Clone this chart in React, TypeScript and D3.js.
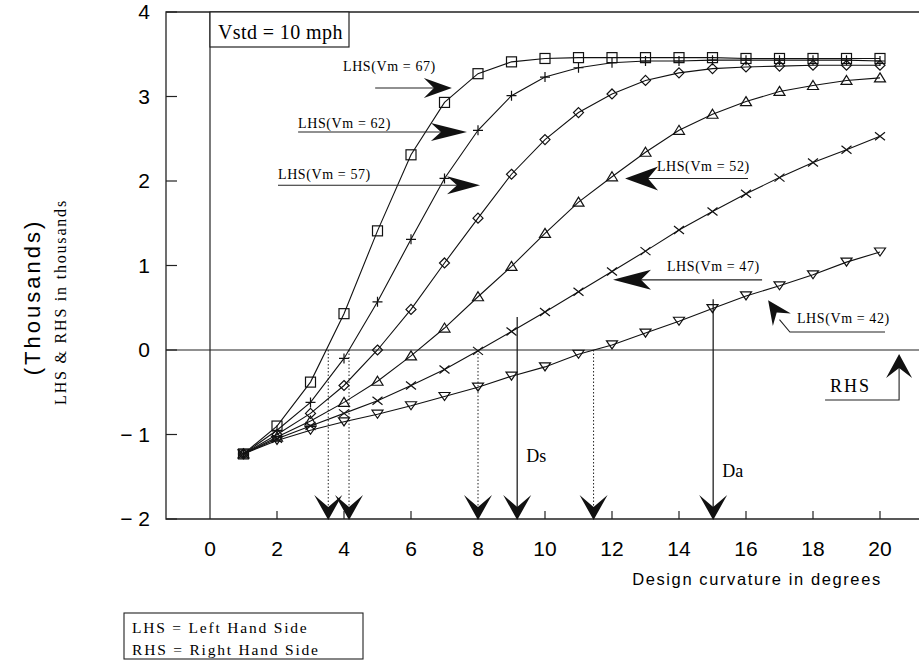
import React from 'react';
import * as d3 from 'd3';

const W = 919;
const H = 664;
const serif = '"Liberation Serif", "Times New Roman", serif';
const sans = '"Liberation Sans", Arial, sans-serif';

// design curvature (degrees)
const curvature = [1, 2, 3, 4, 5, 6, 7, 8, 9, 10, 11, 12, 13, 14, 15, 16, 17, 18, 19, 20];

// LHS in thousands for each Vm
const vm67 = [-1.23, -0.9, -0.38, 0.43, 1.41, 2.31, 2.93, 3.27, 3.41, 3.45, 3.46, 3.46, 3.46, 3.46, 3.46, 3.45, 3.45, 3.45, 3.45, 3.45];
const vm62 = [-1.23, -0.95, -0.62, -0.1, 0.57, 1.31, 2.03, 2.6, 3.01, 3.23, 3.34, 3.4, 3.42, 3.42, 3.43, 3.43, 3.43, 3.43, 3.43, 3.42];
const vm57 = [-1.23, -1.0, -0.75, -0.42, 0.0, 0.48, 1.03, 1.56, 2.08, 2.49, 2.81, 3.03, 3.19, 3.28, 3.33, 3.35, 3.36, 3.37, 3.37, 3.37];
const vm52 = [-1.23, -1.03, -0.84, -0.62, -0.37, -0.07, 0.26, 0.63, 0.99, 1.38, 1.75, 2.05, 2.34, 2.6, 2.79, 2.94, 3.06, 3.13, 3.19, 3.22];
const vm47 = [-1.23, -1.05, -0.9, -0.75, -0.6, -0.42, -0.23, -0.01, 0.22, 0.45, 0.69, 0.93, 1.17, 1.42, 1.64, 1.85, 2.04, 2.22, 2.37, 2.53];
const vm42 = [-1.23, -1.07, -0.95, -0.85, -0.76, -0.66, -0.55, -0.44, -0.31, -0.2, -0.05, 0.06, 0.2, 0.34, 0.49, 0.64, 0.76, 0.89, 1.04, 1.16];

const series = [
  { name: 'Vm=67', values: vm67, marker: 'square' },
  { name: 'Vm=62', values: vm62, marker: 'plus' },
  { name: 'Vm=57', values: vm57, marker: 'diamond' },
  { name: 'Vm=52', values: vm52, marker: 'triUp' },
  { name: 'Vm=47', values: vm47, marker: 'cross' },
  { name: 'Vm=42', values: vm42, marker: 'triDown' },
];

// pointer labels: text position, arrow tail and tip (data units), arrow angle
const pointers = [
  { text: 'LHS(Vm = 67)', tx: 3.97, ty: 3.3, x0: 4.93, y0: 3.1, x1: 7.22, y1: 3.1, angle: 0, len: 28, half: 10 },
  { text: 'LHS(Vm = 62)', tx: 2.63, ty: 2.63, x0: 2.63, y0: 2.58, x1: 7.67, y1: 2.58, angle: 0, len: 36, half: 9 },
  { text: 'LHS(Vm = 57)', tx: 2.03, ty: 2.02, x0: 2.03, y0: 1.95, x1: 8.06, y1: 1.95, angle: 0, len: 33, half: 9 },
  { text: 'LHS(Vm = 52)', tx: 13.34, ty: 2.12, x0: 16.06, y0: 2.03, x1: 12.39, y1: 2.03, angle: 180, len: 33, half: 12 },
  { text: 'LHS(Vm = 47)', tx: 13.64, ty: 0.935, x0: 16.48, y0: 0.83, x1: 12.03, y1: 0.83, angle: 180, len: 38, half: 10 },
];

// drop lines to the x axis
const drops = [
  { x: 3.53, top: 0, dotted: true, label: '' },
  { x: 4.15, top: 0, dotted: true, label: '' },
  { x: 8.0, top: 0, dotted: true, label: '' },
  { x: 9.17, top: 0.39, dotted: false, label: 'Ds' },
  { x: 11.45, top: 0, dotted: true, label: '' },
  { x: 15.02, top: 0.6, dotted: false, label: 'Da' },
];

const legendLines = ['LHS = Left Hand Side', 'RHS = Right Hand Side'];

const arrowHead = (tx: number, ty: number, angle: number, len: number, half: number, notch: number) => {
  const a = (angle * Math.PI) / 180;
  const ux = Math.cos(a);
  const uy = Math.sin(a);
  const bx = tx - ux * len;
  const by = ty - uy * len;
  const nx = tx - ux * (len - notch);
  const ny = ty - uy * (len - notch);
  return `M${tx},${ty}L${bx - uy * half},${by + ux * half}L${nx},${ny}L${bx + uy * half},${by - ux * half}Z`;
};

const Marker = ({ type, cx, cy }: { type: string; cx: number; cy: number }) => {
  const p = { fill: 'none', stroke: '#111', strokeWidth: 1.2 };
  if (type === 'square') return <rect x={cx - 5} y={cy - 5} width={10} height={10} {...p} />;
  if (type === 'plus') return <path d={`M${cx - 5},${cy}H${cx + 5}M${cx},${cy - 5}V${cy + 5}`} {...p} />;
  if (type === 'diamond') return <path d={`M${cx},${cy - 5}L${cx + 5},${cy}L${cx},${cy + 5}L${cx - 5},${cy}Z`} {...p} />;
  if (type === 'triUp') return <path d={`M${cx},${cy - 5}L${cx + 5.5},${cy + 4}L${cx - 5.5},${cy + 4}Z`} {...p} />;
  if (type === 'cross') return <path d={`M${cx - 5},${cy - 4}L${cx + 5},${cy + 4}M${cx - 5},${cy + 4}L${cx + 5},${cy - 4}`} {...p} />;
  return <path d={`M${cx - 5.5},${cy - 4}L${cx + 5.5},${cy - 4}L${cx},${cy + 4}Z`} {...p} />;
};

export default function App() {
  const left = 166, top = 12, right = W, bottom = 519;
  const x = d3.scaleLinear().domain([0, 20]).range([210, 880]);
  const y = d3.scaleLinear().domain([-2, 4]).range([bottom, top]);
  const line = d3
    .line<number>()
    .x((_, i) => x(curvature[i]))
    .y((d) => y(d));

  const fmt = (d: number) => (d < 0 ? `\u2212 ${Math.abs(d)}` : `${d}`);

  return (
    <svg width={W} height={H} style={{ position: 'absolute', left: 0, top: 0, background: '#fff' }}>
      {/* frame */}
      <path d={`M${right},${top}H${left}V${bottom}H${right}`} fill="none" stroke="#222" strokeWidth={1.3} />
      <line x1={x(0)} x2={x(0)} y1={top} y2={bottom} stroke="#222" strokeWidth={1.2} />
      <line x1={left} x2={right} y1={y(0)} y2={y(0)} stroke="#222" strokeWidth={1.2} />

      {/* y axis */}
      {y.ticks(6).map((t) => (
        <g key={`y${t}`}>
          <line x1={left} x2={left + 11} y1={y(t)} y2={y(t)} stroke="#222" strokeWidth={1.2} />
          <text x={150} y={y(t) + 7} textAnchor="end" fontFamily={sans} fontSize={21}>
            {fmt(t)}
          </text>
        </g>
      ))}

      {/* x axis */}
      {x.ticks(10).map((t) => (
        <g key={`x${t}`}>
          {t > 0 && <line x1={x(t)} x2={x(t)} y1={bottom} y2={bottom - 8} stroke="#222" strokeWidth={1.2} />}
          <text x={x(t)} y={556} textAnchor="middle" fontFamily={sans} fontSize={21}>
            {t}
          </text>
        </g>
      ))}

      <text x={757} y={585} textAnchor="middle" fontFamily={sans} fontSize={16.5} letterSpacing={1.6}>
        Design curvature in degrees
      </text>
      <text transform="translate(40,297) rotate(-90)" textAnchor="middle" fontFamily={sans} fontSize={22} letterSpacing={3}>
        (Thousands)
      </text>
      <text transform="translate(66,302) rotate(-90)" textAnchor="middle" fontFamily={serif} fontSize={16} letterSpacing={1.8}>
        LHS &amp; RHS in thousands
      </text>

      {/* Vstd box */}
      <rect x={x(0)} y={top} width={139} height={35} fill="#fff" stroke="#222" strokeWidth={1.2} />
      <text x={218} y={39} fontFamily={serif} fontSize={20} letterSpacing={0.4}>
        Vstd = 10 mph
      </text>

      {/* drop lines */}
      {drops.map((d) => (
        <g key={`d${d.x}`}>
          <line
            x1={x(d.x)}
            x2={x(d.x)}
            y1={y(d.top)}
            y2={bottom - 10}
            stroke="#222"
            strokeWidth={d.dotted ? 1 : 1.3}
            strokeDasharray={d.dotted ? '1.5,2' : undefined}
          />
          <path d={arrowHead(x(d.x), bottom + 1, 90, 25, 14, 12)} fill="#111" />
          {d.label && (
            <text x={x(d.x) + 9} y={d.label === 'Ds' ? 462 : 477} fontFamily={serif} fontSize={18}>
              {d.label}
            </text>
          )}
        </g>
      ))}

      {/* series */}
      {series.map((s) => (
        <g key={s.name}>
          <path d={line(s.values) ?? ''} fill="none" stroke="#111" strokeWidth={1.1} />
          {s.values.map((v, i) => (
            <Marker key={i} type={s.marker} cx={x(curvature[i])} cy={y(v)} />
          ))}
        </g>
      ))}

      {/* pointer labels */}
      {pointers.map((p) => {
        const dir = p.angle === 0 ? 1 : -1;
        return (
          <g key={p.text}>
            <text x={x(p.tx)} y={y(p.ty)} fontFamily={serif} fontSize={14} letterSpacing={0.6}>
              {p.text}
            </text>
            <line x1={x(p.x0)} x2={x(p.x1) - dir * (p.len - 10)} y1={y(p.y0)} y2={y(p.y1)} stroke="#222" strokeWidth={1.1} />
            <path d={arrowHead(x(p.x1), y(p.y1), p.angle, p.len, p.half, 10)} fill="#111" />
          </g>
        );
      })}

      {/* Vm=42 pointer */}
      <text x={x(17.52)} y={y(0.32)} fontFamily={serif} fontSize={14} letterSpacing={0.6}>
        LHS(Vm = 42)
      </text>
      <path d={`M${x(17.0)},${y(0.36)}L${x(17.31)},${y(0.213)}H${x(20.15)}`} fill="none" stroke="#222" strokeWidth={1.1} />
      <path d={arrowHead(x(16.66), y(0.59), -125, 24, 11, 9)} fill="#111" />

      {/* RHS pointer */}
      <text x={x(18.51)} y={y(-0.497)} fontFamily={serif} fontSize={18} letterSpacing={2}>
        RHS
      </text>
      <path d={`M${x(20.57)},${y(-0.2)}V${y(-0.592)}H${x(18.36)}`} fill="none" stroke="#222" strokeWidth={1.1} />
      <path d={arrowHead(x(20.57), y(-0.047), -90, 24, 13, 10)} fill="#111" />

      {/* legend */}
      <rect x={124} y={613} width={239} height={46} fill="#fff" stroke="#222" strokeWidth={1.1} />
      {legendLines.map((t, i) => (
        <text key={t} x={132} y={633 + i * 22} fontFamily={serif} fontSize={15.5} letterSpacing={1.8}>
          {t}
        </text>
      ))}
    </svg>
  );
}
